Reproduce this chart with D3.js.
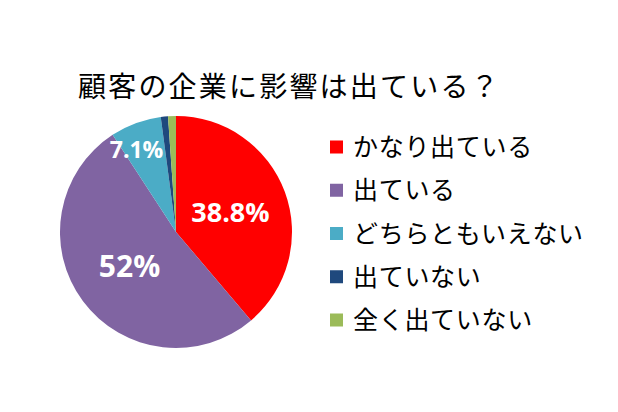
<!DOCTYPE html>
<html><head><meta charset="utf-8">
<script src="https://cdn.jsdelivr.net/npm/d3@7"></script>
<style>html,body{margin:0;padding:0;background:#fff;}svg{display:block;}</style>
</head><body>
<script>
const categories = ["かなり出ている","出ている","どちらともいえない","出ていない","全く出ていない"];
const values = [38.8, 52, 7.1, 1.0, 1.1];
const valueLabels = ["38.8%", "52%", "7.1%", "", ""];
const colors = ["#FF0000","#8064A2","#4BACC6","#1F497D","#9BBB59"];
const title = "顧客の企業に影響は出ている？";

const W = 618, H = 412;
const svg = d3.select("body").append("svg").attr("width", W).attr("height", H);
svg.append("rect").attr("width", W).attr("height", H).attr("fill", "#fff");

svg.append("text").attr("x", 78).attr("y", 97)
  .attr("font-family", "'Noto Sans CJK JP', sans-serif").attr("font-size", 28)
  .attr("letter-spacing", 2.2).attr("fill", "#000").text(title);

const cx = 176, cy = 232, r = 116;
const data = categories.map((c, i) => ({cat: c, value: values[i], label: valueLabels[i], color: colors[i]}));
const pie = d3.pie().sort(null).value(d => d.value);
const arc = d3.arc().innerRadius(0).outerRadius(r);
const g = svg.append("g").attr("transform", `translate(${cx},${cy})`);
const arcs = pie(data);
g.selectAll("path").data(arcs).join("path").attr("d", arc).attr("fill", d => d.data.color);

g.selectAll("text").data(arcs.filter(d => d.data.label)).join("text")
  .attr("transform", d => {
    const small = d.data.value < 10;
    const rr = small ? r * 0.79 : r * 0.5;
    const a = (d.startAngle + d.endAngle) / 2 - (small ? 0.09 : 0);
    return `translate(${rr * Math.sin(a)},${-rr * Math.cos(a)})`;
  })
  .attr("text-anchor", "middle").attr("dy", "0.36em")
  .attr("font-family", "'Open Sans', sans-serif").attr("font-weight", "bold")
  .attr("font-size", d => d.data.value > 40 ? 30 : d.data.value > 20 ? 27 : 23)
  .attr("fill", "#fff").text(d => d.data.label);

const y = d3.scalePoint().domain(categories).range([147, 320]);
const leg = svg.append("g");
const rows = leg.selectAll("g").data(data).join("g").attr("transform", d => `translate(0,${y(d.cat)})`);
rows.append("rect").attr("x", 330).attr("y", -6.5).attr("width", 13).attr("height", 13).attr("fill", d => d.color);
rows.append("text").attr("x", 353).attr("dy", "0.36em")
  .attr("font-family", "'Noto Sans CJK JP', sans-serif").attr("font-size", 25)
  .attr("letter-spacing", 0.7).attr("fill", "#000").text(d => d.cat);
</script>
</body></html>
